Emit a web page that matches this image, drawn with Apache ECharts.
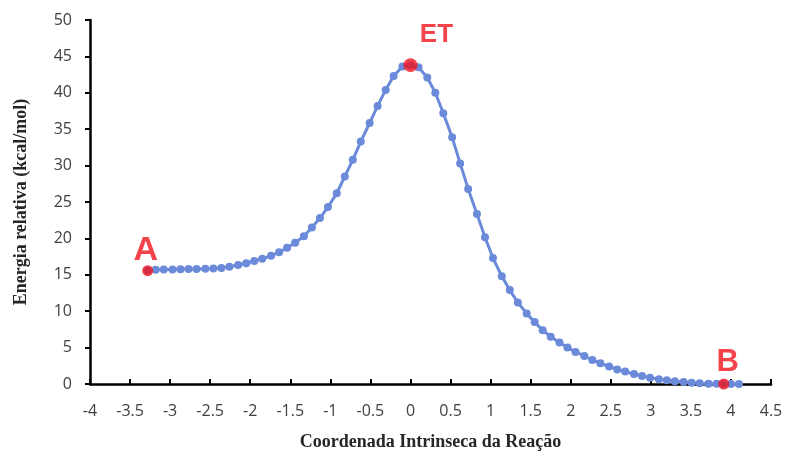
<!DOCTYPE html>
<html>
<head>
<meta charset="utf-8">
<script src="https://cdn.jsdelivr.net/npm/echarts@6/dist/echarts.min.js"></script>
<style>
html,body{margin:0;padding:0;background:#fff;}
#chart{width:789px;height:452px;}
</style>
</head>
<body>
<div id="chart"></div>
<script>
// IRC coordinate (x) and relative energy (kcal/mol)
var ircX = [
  -3.28, -3.18, -3.08, -2.97, -2.87, -2.77, -2.67, -2.56, -2.46, -2.36, -2.26, -2.15, -2.05, -1.95, -1.85, -1.74, -1.64,
  -1.54, -1.44, -1.33, -1.23, -1.13, -1.03, -0.92, -0.82, -0.72, -0.62, -0.51, -0.41, -0.31, -0.21, -0.10, 0,
  0.10, 0.21, 0.31, 0.41, 0.52, 0.62, 0.72, 0.83, 0.93, 1.03, 1.14, 1.24, 1.34, 1.45, 1.55, 1.65, 1.75, 1.86,
  1.96, 2.06, 2.17, 2.27, 2.37, 2.48, 2.58, 2.68, 2.79, 2.89, 2.99, 3.10, 3.20, 3.30, 3.41, 3.51, 3.61, 3.72,
  3.82, 3.91, 4.00, 4.10
];
var energy = [
  15.6, 15.7, 15.72, 15.74, 15.76, 15.78, 15.8, 15.83, 15.87, 15.95, 16.1, 16.35, 16.6, 16.9, 17.2, 17.6, 18.1,
  18.7, 19.4, 20.3, 21.5, 22.8, 24.3, 26.2, 28.5, 30.8, 33.3, 35.85, 38.2, 40.4, 42.3, 43.6, 43.8,
  43.5, 42.1, 40.0, 37.2, 33.9, 30.3, 26.8, 23.35, 20.15, 17.3, 14.8, 12.9, 11.2, 9.7, 8.5, 7.4, 6.5, 5.7,
  5.0, 4.4, 3.85, 3.3, 2.85, 2.4, 2.0, 1.7, 1.37, 1.1, 0.87, 0.65, 0.5, 0.37, 0.27, 0.18, 0.1, 0.05,
  0.02, 0.0, 0.0, 0.0
];
// Highlighted stationary points
var keyNames = ['A', 'ET', 'B'];
var keyX = [-3.28, 0, 3.91];
var keyY = [15.56, 43.8, 0];

var xTitle = 'Coordenada Intrinseca da Reação';
var yTitle = 'Energia relativa (kcal/mol)';

var chart = echarts.init(document.getElementById('chart'));

var lineData = ircX.map(function (x, i) { return [x, energy[i]]; });
var keySizes = [11, 14, 11];
var keyFont = [34, 26, 31];
var keyOffset = [[-2, -20], [26, -30], [4, -22]];
var keyData = keyNames.map(function (n, i) {
  return {
    name: n,
    value: [keyX[i], keyY[i]],
    symbolSize: keySizes[i],
    label: { show: true, formatter: n, position: 'inside', offset: keyOffset[i], fontSize: keyFont[i] }
  };
});

chart.setOption({
  animation: false,
  backgroundColor: '#ffffff',
  grid: { left: 90, right: 18, top: 20, bottom: 68, outerBoundsMode: 'none', containLabel: false },
  xAxis: {
    type: 'value', min: -4, max: 4.5, interval: 0.5,
    name: xTitle, nameLocation: 'middle', nameGap: 49,
    nameTextStyle: { fontFamily: 'Liberation Serif', fontWeight: 'bold', fontSize: 18, color: '#262626' },
    axisLine: { show: true, onZero: false, lineStyle: { color: '#000', width: 2.5 } },
    axisTick: { show: true, inside: true, length: 5, lineStyle: { color: '#000', width: 2 } },
    axisLabel: { fontFamily: 'Open Sans', fontSize: 16, color: '#404040', margin: 19 },
    splitLine: { show: false }
  },
  yAxis: {
    type: 'value', min: 0, max: 50, interval: 5,
    name: yTitle, nameLocation: 'middle', nameGap: 60,
    nameTextStyle: { fontFamily: 'Liberation Serif', fontWeight: 'bold', fontSize: 18, color: '#262626' },
    axisLine: { show: true, onZero: false, lineStyle: { color: '#000', width: 2.5 } },
    axisTick: { show: true, inside: false, length: 5, lineStyle: { color: '#000', width: 2 } },
    axisLabel: { fontFamily: 'Open Sans', fontSize: 16, color: '#404040', margin: 18 },
    splitLine: { show: false }
  },
  series: [
    {
      type: 'line',
      data: lineData,
      symbol: 'circle',
      symbolSize: 8,
      showSymbol: true,
      lineStyle: { color: '#6B8BDA', width: 3 },
      itemStyle: { color: '#6B8BDA' },
      z: 2
    },
    {
      type: 'scatter',
      data: keyData,
      itemStyle: { color: '#F0141E' },
      label: { color: '#F0141E', fontFamily: 'Liberation Sans', fontWeight: 'bold' },
      z: 3
    }
  ]
});
</script>
</body>
</html>
